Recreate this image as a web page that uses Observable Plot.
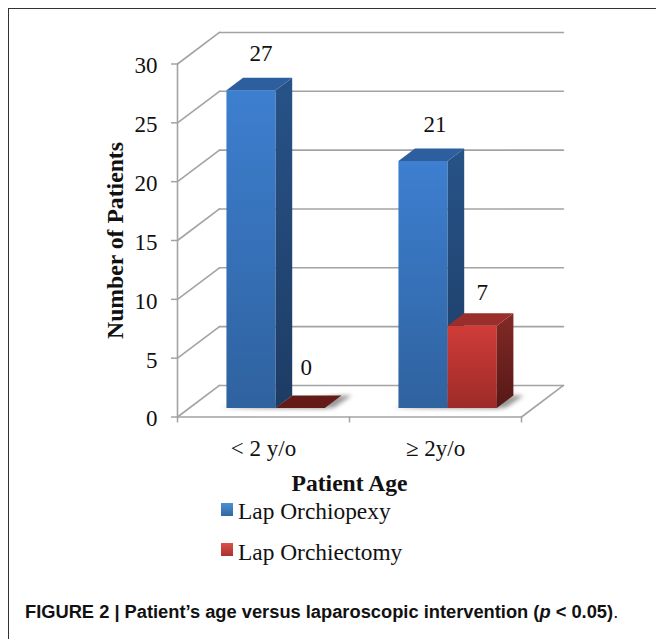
<!DOCTYPE html>
<html><head><meta charset="utf-8">
<script src="https://cdn.jsdelivr.net/npm/d3@7"></script>
<script src="https://cdn.jsdelivr.net/npm/@observablehq/plot@0.6"></script>
<style>
html,body{margin:0;padding:0;background:#fff}
#page{position:relative;width:656px;height:639px;overflow:hidden;background:#fff}
#frame{position:absolute;left:8px;top:8px;width:660px;height:660px;border:1px solid #333;box-sizing:border-box}
#chart{position:absolute;left:0;top:0}
.lg{position:absolute;left:238px;font:23.4px "Liberation Serif",serif;color:#111;white-space:nowrap;line-height:24px}
.sw{position:absolute;left:221px;width:12px;height:13px}
#cap{position:absolute;left:25px;top:601px;font:bold 18.3px "Liberation Sans",sans-serif;color:#111;white-space:nowrap}
#cap .p{font-style:italic}
#cap .e{font-weight:normal}
</style></head>
<body><div id="page">
<div id="frame"></div>
<div id="chart"></div>
<div class="sw" style="top:503px;background:linear-gradient(#4a90d6,#33679f)"></div>
<div class="lg" style="top:499px">Lap Orchiopexy</div>
<div class="sw" style="top:543px;background:linear-gradient(#dc5048,#a83230)"></div>
<div class="lg" style="top:540px">Lap Orchiectomy</div>
<div id="cap">FIGURE 2 | Patient’s age versus laparoscopic intervention (<span class="p">p</span> &lt; 0.05)<span class="e">.</span></div>
</div>
<script>
const categories = ["< 2 y/o", "≥ 2y/o"];
const lapOrchiopexy = [27, 21];
const lapOrchiectomy = [0, 7];
const yTicks = [0, 5, 10, 15, 20, 25, 30];

// oblique projection: depth d in [0,1] shifts a point right and up, in scale units
const depthX = 0.244, depthY = 2.68;
const barW = 0.286, gap = 0.215, d0 = 0.285, d1 = 0.68;
const P = (x, y, d) => ({x: x + d * depthX, y: y + d * depthY});
const line = (a, b, o = {}) => Plot.line([a, b], {x: "x", y: "y", stroke: "#a3a3a3", strokeWidth: 1.6, ...o});
const poly = (pts, fill, o = {}) => Plot.line(pts, {x: "x", y: "y", fill, stroke: "none", curve: "linear-closed", ...o});

function barMarks(xLeft, v, c) {
  const xr = xLeft + barW;
  return [
    poly([P(xLeft,0,d0),P(xr,0,d0),P(xr,v,d0),P(xLeft,v,d0)], `url(#${c}Front)`),
    poly([P(xr,0,d0),P(xr,0,d1),P(xr,v,d1),P(xr,v,d0)], `url(#${c}Side)`),
    poly([P(xLeft,v,d0),P(xr,v,d0),P(xr,v,d1),P(xLeft,v,d1)], v === 0 ? "#641b18" : (c === "b" ? "#2d5f9f" : "#9b2d2a"))
  ];
}
const shadow = (xl, xr) => poly([P(xl-0.035,0,d0),P(xr,0,d0-0.02),P(xr+0.05,0,d0+0.02),P(xr+0.06,0,d1),P(xr,0,d1)], "#999", {imageFilter: "blur(2px)"});

const defs = () => {
  const s = d3.create("svg:defs");
  const g = (id, stops, x2 = 0, y2 = 1) => {
    const l = s.append("linearGradient").attr("id", id).attr("x1", 0).attr("y1", 0).attr("x2", x2).attr("y2", y2);
    stops.forEach((c, i) => l.append("stop").attr("offset", i / (stops.length - 1)).attr("stop-color", c));
  };
  g("bFront", ["#3d7fd0", "#2f629f"]);
  g("bSide", ["#275388", "#1d3c64"]);
  g("rFront", ["#d03c38", "#9c2b28"]);
  g("rSide", ["#822a26", "#561817"]);
  return s.node();
};

const labelFont = {fontSize: 23, fontFamily: "Liberation Serif", fill: "#111"};
const barLefts = [gap, 1 + gap];
const valueLabels = [
  {x: barLefts[0] + barW / 2, y: lapOrchiopexy[0], t: lapOrchiopexy[0], dx: 10, dy: -37},
  {x: barLefts[0] + barW * 1.5, y: lapOrchiectomy[0], t: lapOrchiectomy[0], dx: 6, dy: -40},
  {x: barLefts[1] + barW / 2, y: lapOrchiopexy[1], t: lapOrchiopexy[1], dx: 12, dy: -36},
  {x: barLefts[1] + barW * 1.5, y: lapOrchiectomy[1], t: lapOrchiectomy[1], dx: 10, dy: -33}
].map(o => ({...o, x: o.x + d0 * depthX, y: o.y + d0 * depthY}));

const plot = Plot.plot({
  width: 656, height: 500,
  marginTop: 0, marginLeft: 0, marginRight: 0, marginBottom: 0,
  style: {background: "transparent", overflow: "visible"},
  x: {domain: [0, 2], range: [177, 521]},
  y: {domain: [0, 30], range: [416.5, 63.5]},
  marks: [
    defs,
    ...yTicks.filter(t => t > 0).map(t => line(P(0,t,0), P(0,t,1))),
    ...yTicks.map(t => line(P(0,t,1), P(2,t,1))),
    line(P(0,0,0), P(0,0,1)),
    line(P(0,0,0), P(2,0,0)),
    line(P(2,0,0), P(2,0,1)),
    line(P(0,0,0), P(0,30,0)),
    shadow(barLefts[0], barLefts[0] + 2 * barW),
    shadow(barLefts[1], barLefts[1] + 2 * barW),
    ...barLefts.flatMap((b, i) => [...barMarks(b, lapOrchiopexy[i], "b"), ...barMarks(b + barW, lapOrchiectomy[i], "r")]),
    Plot.axisY({ticks: yTicks, tickSize: 6, tickFormat: () => "", stroke: "#a3a3a3", strokeWidth: 1.5, label: null, anchor: "left", x: 0}),
    Plot.text(yTicks, {x: yTicks.map(() => 0), y: yTicks, text: d => String(d), textAnchor: "end", dx: -20, dy: 2, ...labelFont}),
    Plot.axisX({ticks: [0, 1, 2], tickSize: 6, tickFormat: () => "", stroke: "#a3a3a3", strokeWidth: 1.5, label: null, anchor: "bottom", y: 0}),
    Plot.text(categories, {x: [0.5, 1.5], y: [0, 0], text: d => d, dy: 32, ...labelFont}),
    Plot.text(["Patient Age"], {x: [1], y: [0], dy: 66, fontSize: 23.6, fontFamily: "Liberation Serif", fontWeight: "bold", fill: "#111"}),
    Plot.text(["Number of Patients"], {x: [0], y: [15], dx: -62, rotate: -90, fontSize: 23.7, fontFamily: "Liberation Serif", fontWeight: "bold", fill: "#111"}),
    ...valueLabels.map(o => Plot.text([o], {x: "x", y: "y", text: "t", dx: o.dx, dy: o.dy, ...labelFont}))
  ]
});
document.getElementById("chart").appendChild(plot);
</script>
</body></html>
